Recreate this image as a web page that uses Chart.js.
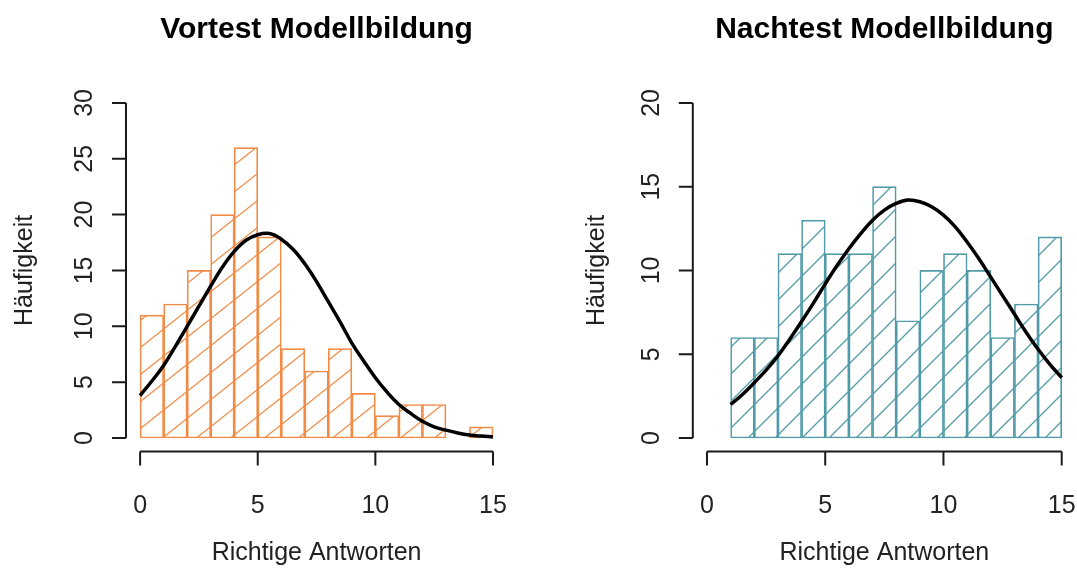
<!DOCTYPE html>
<html lang="de">
<head>
    <meta charset="UTF-8">
    <title>Modellbildung Histogramme</title>
    <script src="https://cdn.jsdelivr.net/npm/chart.js"></script>
    <style>
        body { margin: 0; background: #fff; }
        .wrap { position: relative; width: 1077px; height: 572px; }
        canvas { position: absolute; top: 0; }
    </style>
</head>
<body>
<div class="wrap">
    <canvas id="vorChart" width="538" height="572" style="left:0"></canvas>
    <canvas id="nachChart" width="539" height="572" style="left:538px"></canvas>
</div>
<script>
// Vortest: bin midpoints and counts
const vorMids   = [0.5, 1.5, 2.5, 3.5, 4.5, 5.5, 6.5, 7.5, 8.5, 9.5, 10.5, 11.5, 12.5, 13.5, 14.5];
const vorCounts = [11, 12, 15, 20, 26, 18, 8, 6, 8, 4, 2, 3, 3, 0, 1];
// Vortest: normal curve
const vorCurveX = [0, 0.5, 1, 1.5, 2, 2.5, 3, 3.5, 4, 4.5, 5, 5.5, 6, 6.5, 7, 7.5, 8, 8.5, 9, 9.5, 10, 10.5, 11, 11.5, 12, 12.5, 13, 13.5, 14, 14.5, 15];
const vorCurveY = [3.8, 5.1, 6.5, 8.2, 10.0, 11.8, 13.6, 15.3, 16.7, 17.7, 18.2, 18.3, 17.8, 16.9, 15.6, 14.0, 12.2, 10.4, 8.5, 6.9, 5.4, 4.1, 3.0, 2.2, 1.5, 1.0, 0.7, 0.45, 0.27, 0.17, 0.1];

// Nachtest
const nachMids   = [1.5, 2.5, 3.5, 4.5, 5.5, 6.5, 7.5, 8.5, 9.5, 10.5, 11.5, 12.5, 13.5, 14.5];
const nachCounts = [6, 6, 11, 13, 11, 11, 15, 7, 10, 11, 10, 6, 8, 12];
const nachCurveX = [1, 1.5, 2, 2.5, 3, 3.5, 4, 4.5, 5, 5.5, 6, 6.5, 7, 7.5, 8, 8.5, 9, 9.5, 10, 10.5, 11, 11.5, 12, 12.5, 13, 13.5, 14, 14.5, 15];
const nachCurveY = [2.0, 2.6, 3.3, 4.05, 4.9, 5.9, 6.95, 8.05, 9.2, 10.3, 11.3, 12.2, 13.0, 13.6, 14.0, 14.2, 14.1, 13.8, 13.3, 12.6, 11.7, 10.7, 9.6, 8.5, 7.4, 6.3, 5.3, 4.4, 3.6];

const xTicks = [0, 5, 10, 15];
const vorYTicks = [0, 5, 10, 15, 20, 25, 30];
const nachYTicks = [0, 5, 10, 15, 20];

const FONT = '"Liberation Sans", Arial, sans-serif';

// diagonal hatching like R's density/angle
function hatch(color, w, h) {
    const c = document.createElement('canvas');
    c.width = w; c.height = h;
    const g = c.getContext('2d');
    g.strokeStyle = color;
    g.lineWidth = 1.3;
    g.beginPath();
    for (let n = -1; n <= 1; n++) {
        g.moveTo(-w, 2 * h + n * h);
        g.lineTo(2 * w, -h + n * h);
    }
    g.stroke();
    return g.createPattern(c, 'repeat');
}

// R style axes: line only from first to last tick, ticks pointing outward
const rAxes = {
    id: 'rAxes',
    afterDraw(chart) {
        const ctx = chart.ctx, xs = chart.scales.x, ys = chart.scales.y, a = chart.chartArea;
        ctx.save();
        ctx.strokeStyle = '#1a1a1a';
        ctx.lineWidth = 2;
        ctx.beginPath();
        const xf = xs.getPixelForValue(xs.ticks[0].value);
        const xl = xs.getPixelForValue(xs.ticks[xs.ticks.length - 1].value);
        ctx.moveTo(xf, a.bottom); ctx.lineTo(xl, a.bottom);
        xs.ticks.forEach(t => {
            const px = xs.getPixelForValue(t.value);
            ctx.moveTo(px, a.bottom); ctx.lineTo(px, a.bottom + 14);
        });
        const yf = ys.getPixelForValue(ys.ticks[0].value);
        const yl = ys.getPixelForValue(ys.ticks[ys.ticks.length - 1].value);
        ctx.moveTo(a.left, yf); ctx.lineTo(a.left, yl);
        ys.ticks.forEach(t => {
            const py = ys.getPixelForValue(t.value);
            ctx.moveTo(a.left, py); ctx.lineTo(a.left - 14, py);
        });
        ctx.stroke();
        ctx.restore();
    }
};

function makeHist(id, opts) {
    const ctx = document.getElementById(id).getContext('2d');
    return new Chart(ctx, {
        type: 'bar',
        data: {
            datasets: [
                {
                    type: 'line',
                    data: opts.curveX.map((x, i) => ({ x: x, y: opts.curveY[i] })),
                    borderColor: '#000',
                    borderWidth: 3.5,
                    pointRadius: 0,
                    tension: 0.4,
                    fill: false,
                    order: 0
                },
                {
                    data: opts.mids.map((x, i) => ({ x: x, y: opts.counts[i] })),
                    backgroundColor: hatch(opts.color, opts.hw, opts.hh),
                    borderColor: opts.color,
                    borderWidth: 1,
                    borderSkipped: false,
                    barPercentage: 1,
                    categoryPercentage: 1,
                    order: 1
                }
            ]
        },
        options: {
            responsive: false,
            animation: false,
            layout: { padding: { left: 0, right: opts.padRight, top: 0, bottom: 0 } },
            plugins: {
                legend: { display: false },
                tooltip: { enabled: false },
                title: {
                    display: true,
                    text: opts.title,
                    color: '#000',
                    fullSize: false,
                    font: { family: FONT, size: 30, weight: 'bold' },
                    padding: { top: 12, bottom: 41.5 }
                }
            },
            scales: {
                x: {
                    type: 'linear',
                    offset: false,
                    min: -0.6,
                    max: 15.6,
                    grid: { display: false, offset: false },
                    border: { display: false },
                    afterBuildTicks: s => { s.ticks = xTicks.map(v => ({ value: v })); },
                    afterFit: s => { s.height = 120.6; s.paddingLeft = 0; s.paddingRight = 0; },
                    ticks: { color: '#222', padding: 32, font: { family: FONT, size: 25 } },
                    title: {
                        display: true,
                        text: 'Richtige Antworten',
                        color: '#222',
                        font: { family: FONT, size: 25 },
                        padding: { top: 0, bottom: 4 }
                    }
                },
                y: {
                    min: opts.yMin,
                    max: opts.yMax,
                    grid: { display: false },
                    border: { display: false },
                    afterBuildTicks: s => { s.ticks = opts.yTicks.map(v => ({ value: v })); },
                    afterFit: s => { s.width = opts.yWidth; s.paddingTop = 0; s.paddingBottom = 0; },
                    ticks: {
                        color: '#222',
                        padding: 19,
                        minRotation: 90,
                        maxRotation: 90,
                        crossAlign: 'center',
                        font: { family: FONT, size: 25 }
                    },
                    title: {
                        display: true,
                        text: 'Häufigkeit',
                        color: '#222',
                        font: { family: FONT, size: 25 },
                        padding: { top: opts.yTitlePad, bottom: 0 }
                    }
                }
            }
        },
        plugins: [rAxes]
    });
}

makeHist('vorChart', {
    title: 'Vortest Modellbildung',
    mids: vorMids, counts: vorCounts,
    curveX: vorCurveX, curveY: vorCurveY,
    yTicks: vorYTicks, yMin: -1.2, yMax: 31.2,
    color: '#F28B46', hw: 34, hh: 27,
    yWidth: 126, padRight: 30.9, yTitlePad: 10
});

makeHist('nachChart', {
    title: 'Nachtest Modellbildung',
    mids: nachMids, counts: nachCounts,
    curveX: nachCurveX, curveY: nachCurveY,
    yTicks: nachYTicks, yMin: -0.8, yMax: 20.8,
    color: '#519BA8', hw: 27, hh: 27,
    yWidth: 154.8, padRight: 1.1, yTitlePad: 44
});
</script>
</body>
</html>
